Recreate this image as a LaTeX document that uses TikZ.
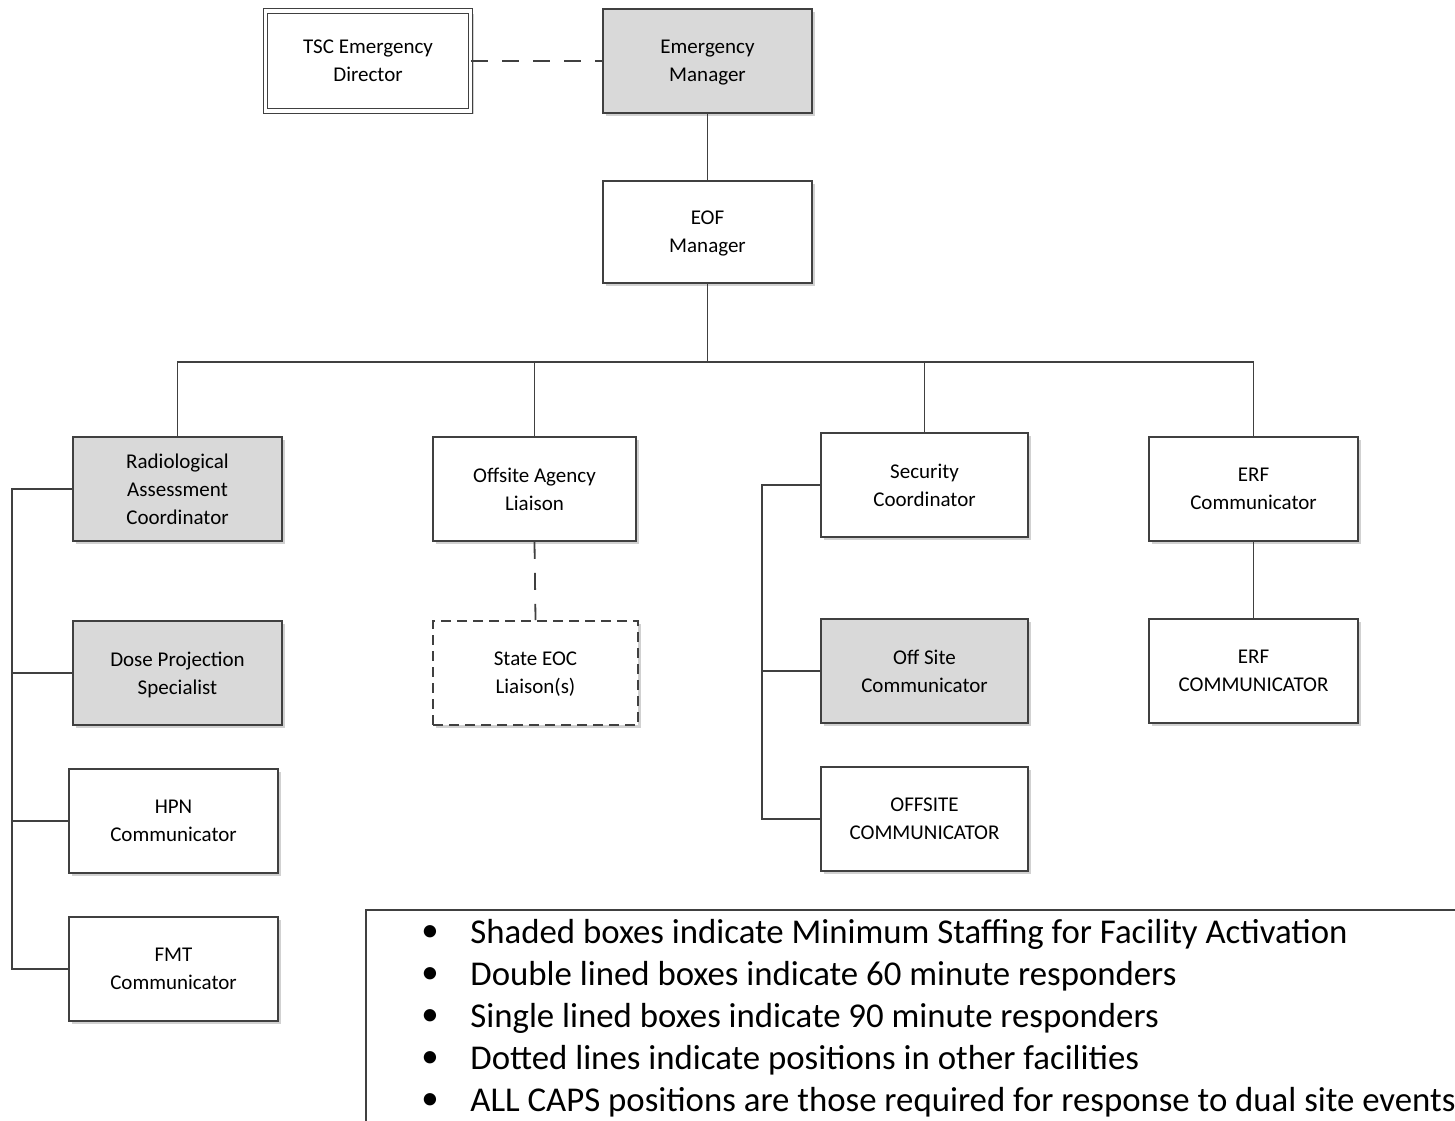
\documentclass[tikz,border=0pt]{standalone}
\usepackage{fontspec}
\setmainfont{Carlito}
\usetikzlibrary{shadows}
\definecolor{linec}{HTML}{404040}
\definecolor{shade}{HTML}{D9D9D9}
\begin{document}
\begin{tikzpicture}[x=0.5pt,y=-0.5pt,
  box/.style={draw=linec, line width=0.9pt, fill=white, rectangle, inner sep=0pt, align=center,
    font=\fontsize{10.5}{14}\selectfont, text=black,
    minimum width=104.5pt, minimum height=52pt, text depth=-1.2pt,
    drop shadow={shadow xshift=1.5pt, shadow yshift=-1.5pt, fill=black, opacity=0.18}},
  narrowbox/.style={box, minimum width=103.5pt},
  shaded/.style={fill=shade},
  dbl/.style={double=white, double distance=1.6pt, line width=0.6pt, minimum width=102.5pt, minimum height=50pt},
  dashbox/.style={dashed, dash pattern=on 5pt off 3pt, minimum width=102.5pt},
  conn/.style={draw=linec, line width=0.9pt},
  dconn/.style={conn, dash pattern=on 8.5pt off 7pt},
  leg/.style={anchor=west, inner sep=0pt, font=\fontsize{17.4}{21}\selectfont, text=black}
]
\useasboundingbox (0,0) rectangle (1455,1120);

% top
\node[box, dbl] (tsc) at (368,61) {TSC Emergency\\Director};
\node[box, shaded] (em) at (707.5,61) {Emergency\\Manager};
\node[box, minimum height=51pt] (eof) at (707.5,232) {EOF\\Manager};

% level 2
\node[box, shaded] (rad) at (177.5,489) {Radiological\\Assessment\\Coordinator};
\node[box, minimum width=101.5pt] (oal) at (534.5,489) {Offsite Agency\\Liaison};
\node[narrowbox] (sec) at (924.5,485) {Security\\Coordinator};
\node[box] (erf) at (1253.5,489) {ERF\\Communicator};

% level 3
\node[box, dashbox] (state) at (535.5,673) {State EOC\\Liaison(s)};
\node[box, shaded] (dose) at (177.5,673) {Dose Projection\\Specialist};
\node[box] (hpn) at (173.5,821) {HPN\\Communicator};
\node[box] (fmt) at (173.5,969) {FMT\\Communicator};
\node[narrowbox, shaded] (offs) at (924.5,671) {Off Site\\Communicator};
\node[narrowbox] (offc) at (924.5,819) {OFFSITE\\COMMUNICATOR};
\node[box] (erf2) at (1253.5,671) {ERF\\COMMUNICATOR};

% connectors
\draw[dconn] (tsc.east) -- (em.west);
\draw[conn] (em.south) -- (eof.north);
\coordinate (bus) at (707.5,362);
\draw[conn] (eof.south) -- (bus);
\draw[conn] (rad.north) |- (bus) -| (erf.north);
\draw[conn] (oal.north) -- (oal.north |- bus);
\draw[conn] (sec.north) -- (sec.north |- bus);
\draw[dconn] (oal.south) -- (state.north);
\draw[conn] (erf.south) -- (erf2.north);

\coordinate (lt) at (12,489);
\draw[conn] (rad.west) -- (lt) |- (fmt.west);
\draw[conn] (dose.west) -- (lt |- dose.west);
\draw[conn] (hpn.west) -- (lt |- hpn.west);

\coordinate (st) at (762,485);
\draw[conn] (sec.west) -- (st) |- (offc.west);
\draw[conn] (offs.west) -- (st |- offs.west);

% legend
\draw[draw=linec, line width=0.9pt] (366,910) rectangle (1480,1140);
\foreach \i/\y/\t in {1/934/Shaded boxes indicate Minimum Staffing for Facility Activation,
  2/976/Double lined boxes indicate 60 minute responders,
  3/1018/Single lined boxes indicate 90 minute responders,
  4/1060/Dotted lines indicate positions in other facilities,
  5/1102/ALL CAPS positions are those required for response to dual site events}{
  \node[leg] (b\i) at (421,\y) {\textbullet};
  \node[leg] (l\i) at (470,\y) {\t};
}
\end{tikzpicture}
\end{document}
